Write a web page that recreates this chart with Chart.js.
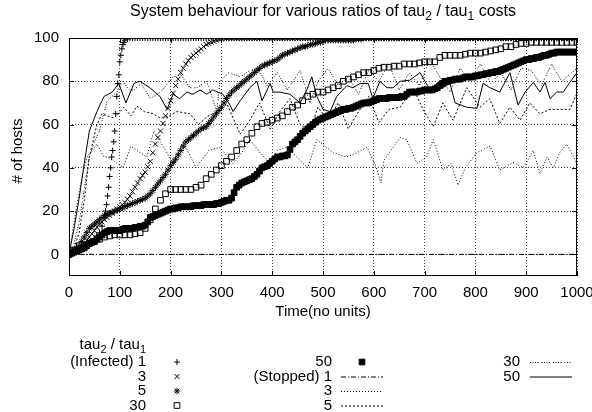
<!DOCTYPE html>
<html>
<head>
<meta charset="utf-8">
<script src="https://cdn.jsdelivr.net/npm/chart.js@4.4.0/dist/chart.umd.min.js"></script>
<style>
  html, body { margin: 0; padding: 0; background: #fff; }
  #wrap { width: 592px; height: 412px; }
</style>
</head>
<body>
<div id="wrap"><canvas id="chart" width="592" height="412"></canvas></div>
<script>
// gnuplot-style chart: infected / stopped hosts for several tau2/tau1 ratios

const xTicks = [0, 100, 200, 300, 400, 500, 600, 700, 800, 900, 1000];
const yTicks = [0, 20, 40, 60, 80, 100];

// sample grids of the point series
const gridX5 = [];
for (let x = 0; x <= 1000; x += 5) gridX5.push(x);
const gridX10 = gridX5.filter(x => x % 10 === 0);

// Infected, ratio 1 (denser samples where it climbs)
const inf1X = [0, 5, 10, 15, 20, 25, 30, 35, 40, 45, 50, 55, 60, 65,
  70, 72, 74, 76, 78, 80, 82, 84, 86, 88, 90, 92, 94, 96, 98, 100, 102, 104, 106, 108, 110, 115]
  .concat(gridX5.filter(x => x >= 120));
const infected1 = [0, 0.5, 1, 1.5, 2, 2.5, 3, 4, 5, 6, 7, 8.5, 10, 13,
  17, 20, 23, 27, 31, 36, 40, 45, 48, 52, 57, 65, 73, 79, 83, 89, 92, 95, 97, 98, 99, 99.5,
  100, 100, 100, 100, 100, 100, 100, 100, 100, 100, 100, 100, 100, 100, 100, 100, 100, 100, 100, 100,
  100, 100, 100, 100, 100, 100, 100, 100, 100, 100, 100, 100, 100, 100, 100, 100, 100, 100, 100, 100,
  100, 100, 100, 100, 100, 100, 100, 100, 100, 100, 100, 100, 100, 100, 100, 100, 100, 100, 100, 100,
  100, 100, 100, 100, 100, 100, 100, 100, 100, 100, 100, 100, 100, 100, 100, 100, 100, 100, 100, 100,
  100, 100, 100, 100, 100, 100, 100, 100, 100, 100, 100, 100, 100, 100, 100, 100, 100, 100, 100, 100,
  100, 100, 100, 100, 100, 100, 100, 100, 100, 100, 100, 100, 100, 100, 100, 100, 100, 100, 100, 100,
  100, 100, 100, 100, 100, 100, 100, 100, 100, 100, 100, 100, 100, 100, 100, 100, 100, 100, 100, 100,
  100, 100, 100, 100, 100, 100, 100, 100, 100, 100, 100, 100, 100, 100, 100, 100, 100, 100, 100, 100,
  100, 100, 100, 100, 100, 100, 100, 100, 100, 100, 100, 100, 100, 100, 100, 100, 100];

// Infected, ratio 3 (every 5 units)
const infected3 = [0, 0.5, 1, 2, 3, 4, 5, 6.5, 8, 9.5,
  11, 12.5, 14, 15, 16, 17, 18, 19, 20, 21,
  22, 23, 24, 25.5, 27, 29, 31, 33, 35, 36.5,
  38, 40.5, 43, 47, 51, 54, 57, 60.5, 64, 67.5,
  71, 74.5, 78, 81, 84, 86, 88, 89.5, 91, 92,
  93, 94, 95, 96, 97, 97.5, 98, 98.5, 99, 99.5,
  99.5, 100,
  100, 100, 100, 100, 100, 100, 100, 100, 100, 100, 100, 100, 100, 100, 100, 100, 100, 100, 100, 100,
  100, 100, 100, 100, 100, 100, 100, 100, 100, 100, 100, 100, 100, 100, 100, 100, 100, 100, 100, 100,
  100, 100, 100, 100, 100, 100, 100, 100, 100, 100, 100, 100, 100, 100, 100, 100, 100, 100, 100, 100,
  100, 100, 100, 100, 100, 100, 100, 100, 100, 100, 100, 100, 100, 100, 100, 100, 100, 100, 100, 100,
  100, 100, 100, 100, 100, 100, 100, 100, 100, 100, 100, 100, 100, 100, 100, 100, 100, 100, 100, 100,
  100, 100, 100, 100, 100, 100, 100, 100, 100, 100, 100, 100, 100, 100, 100, 100, 100, 100, 100, 100,
  100, 100, 100, 100, 100, 100, 100, 100, 100, 100, 100, 100, 100, 100, 100, 100, 100, 100, 100];

// Infected, ratio 5 (every 5 units)
const infected5 = [0, 1, 2, 3, 4, 6, 8, 10, 12, 13,
  14, 15, 16, 17, 18, 18.5, 19, 19.5, 20, 20.5,
  21, 21.5, 22, 22.5, 23, 23.5, 24, 24.5, 25, 25.5,
  26, 27, 28, 29.5, 31, 32.5, 34, 35.5, 37, 39,
  41, 42.5, 44, 46, 48, 50, 52, 53, 54, 55,
  56, 57, 58, 58.5, 59, 60.5, 62, 63.5, 65, 66.5,
  68, 70, 72, 73.5, 75, 76, 77, 78, 79, 80,
  81, 82, 83, 84, 85, 86, 87, 87.5, 88, 88.5,
  89, 89.5, 90, 91, 92, 92.5, 93, 93.5, 94, 94.5,
  95, 95.5, 96, 96, 96.5, 97, 97, 97.5, 98, 98,
  98.5, 99, 99, 99, 99, 99, 99, 99, 99, 99,
  99, 99, 99, 99.5, 99.5, 99.5,
  100, 100, 100, 100, 100, 100, 100, 100, 100, 100, 100, 100, 100, 100, 100, 100, 100, 100, 100, 100,
  100, 100, 100, 100, 100, 100, 100, 100, 100, 100, 100, 100, 100, 100, 100, 100, 100, 100, 100, 100,
  100, 100, 100, 100, 100, 100, 100, 100, 100, 100, 100, 100, 100, 100, 100, 100, 100, 100, 100, 100,
  100, 100, 100, 100, 100, 100, 100, 100, 100, 100, 100, 100, 100, 100, 100, 100, 100, 100, 100, 100,
  100, 100, 100, 100, 100];

// Infected, ratio 30 (every 10 units)
const infected30 = [0, 2, 4, 4, 5, 6, 7, 8, 8.5, 9,
  9, 9, 9, 9.5, 10, 12, 16, 21, 25, 28,
  30, 30, 30, 30, 30, 31, 32, 35, 37, 39,
  41, 43, 45, 48, 51, 53, 56, 59, 60.5, 61,
  62, 63, 64, 66, 68, 69, 71, 73, 74, 75,
  75, 76, 77, 78, 80, 81, 82, 83, 84, 84,
  85, 86, 86.5, 86.5, 87, 87, 88, 88, 88, 88.5,
  89, 89, 89, 91, 92, 92, 92, 92, 92.5, 93,
  93, 93, 93.5, 94, 94.5, 95, 96, 96, 97, 97.5,
  97.5, 98, 98, 98, 98, 98, 98, 98, 98, 98,
  98];

// Infected, ratio 50 (every 5 units)
const infected50 = [0, 0.5, 1, 1.5, 2, 2.5, 3, 4, 5, 5.5,
  6, 7, 8, 9, 10, 10.5, 11, 11, 11, 11,
  11, 11.5, 12, 12, 12, 12, 12.5, 12.5, 13, 13,
  13.5, 15, 17, 17.5, 18, 18.5, 19, 19.5, 20, 20.5,
  21, 21, 21.5, 21.5, 22, 22, 22, 22, 22, 22.5,
  22.5, 22.5, 22.5, 23, 23, 23, 23, 23, 23.5, 23.5,
  24, 24.5, 25, 25, 26, 28.5, 31, 32, 33, 33.5,
  34, 34.5, 35, 36, 37, 38.5, 40, 40.5, 41, 42,
  43, 44, 45, 45, 45.5, 45.5, 46, 48.5, 51, 52,
  53, 54.5, 56, 57, 58, 59, 60, 61, 62, 62.5,
  63, 63.5, 64, 64.5, 65, 65.5, 66, 66.5, 67, 67,
  67.5, 67.5, 68, 68.5, 69, 69.5, 70, 70, 70, 70.5,
  71, 71.5, 72, 72, 72, 72, 72.5, 72.5, 72.5, 72.5,
  72.5, 73, 73, 74, 75, 75, 75, 75, 75.5, 75.5,
  76, 76, 76, 76, 76.5, 77, 78, 79, 80, 80,
  80.5, 80.5, 81, 81, 81, 81.5, 82, 82, 82, 82,
  82.5, 82.5, 83, 83, 83.5, 83.5, 84, 84, 84.5, 84.5,
  85, 85.5, 86, 86.5, 87, 87.5, 88, 88.5, 89, 89.5,
  90, 90, 90.5, 90.5, 91, 91, 91.5, 92, 92, 92.5,
  93, 93, 93.5, 93.5, 93.5, 93.5, 93.5, 93.5, 93.5, 93.5,
  93.5];

// Stopped series (lines)
const stop1X = [0, 1000];
const stopped1 = [0, 0];

const stop3X = [0, 10, 24, 35, 49, 55, 69, 75, 89, 106, 122, 134, 153, 167, 185, 205, 225, 250, 275, 297, 323, 340, 356, 376, 396, 410, 429, 455, 470, 488, 520, 547, 567, 587, 605, 614, 620, 652, 665, 685, 704, 717, 736, 752, 766, 780, 803, 829, 848, 874, 894, 914, 927, 941, 953, 966, 980, 1000];
const stopped3 = [0, 15, 34, 45, 49, 51, 45, 45, 43, 40, 50, 48, 45, 57, 50, 42, 52, 40, 48, 49.5, 42, 47, 53, 47, 42, 48, 49.5, 43.5, 40, 53, 47, 45, 47, 49.5, 40, 33, 43.5, 54, 53, 42, 45, 53, 39, 42, 32, 40, 47, 50, 39, 42.5, 40, 48, 37.5, 45, 40, 47, 51, 42];

const stop5X = [0, 10, 20, 30, 40, 55, 65, 75, 89, 108, 122, 134, 148, 165, 180, 193, 212, 238, 255, 271, 291, 311, 337, 356, 375, 396, 415, 435, 455, 474, 490, 510, 530, 550, 570, 590, 610, 630, 652, 677, 697, 717, 736, 756, 783, 809, 828, 848, 868, 888, 907, 927, 947, 966, 986, 1000];
const stopped5 = [0, 3, 10, 25, 45, 60, 65, 64, 63, 68, 64, 68.5, 66, 65, 63, 63.5, 66, 65, 60, 63.5, 66, 69.5, 55.5, 62, 70, 58, 66, 72, 60, 57, 68, 62, 70, 58, 66, 73, 61, 67, 68, 77, 67, 59, 70, 62, 77, 68, 72, 60.5, 68, 62, 70, 65, 67, 67, 67, 74.5];

const stop30X = [0, 10, 20, 30, 40, 50, 60, 75, 94, 106, 118, 128, 142, 160, 180, 205, 220, 238, 252, 271, 291, 297, 315, 337, 356, 372, 390, 410, 430, 455, 474, 490, 510, 530, 550, 570, 590, 610, 630, 650, 670, 690, 710, 730, 750, 770, 790, 810, 830, 850, 870, 890, 910, 930, 950, 970, 990, 1000];
const stopped30 = [0, 5, 15, 30, 45, 52, 57, 71, 75, 80, 76, 76, 79, 72, 75, 82, 83, 77, 77, 80, 66, 80, 84, 82, 85, 86, 78, 84, 76, 85, 70, 80, 86, 78, 82, 74, 85, 80, 88, 76, 84, 78, 90, 82, 75, 86, 80, 88, 79, 84, 76, 86, 85, 78, 88, 80, 84, 86];

const stop50X = [0, 10, 20, 30, 40, 55, 69, 85, 98, 112, 128, 140, 159, 179, 193, 205, 218, 232, 244, 258, 271, 283, 303, 317, 323, 337, 356, 370, 380, 396, 402, 415, 435, 455, 468, 478, 488, 500, 514, 527, 547, 559, 573, 589, 598, 612, 626, 638, 652, 671, 691, 714, 724, 736, 750, 760, 783, 803, 815, 829, 848, 868, 884, 898, 914, 927, 937, 947, 960, 973, 986, 1000];
const stopped50 = [0, 12, 26, 42, 57, 66, 73, 75, 79, 70, 79, 80, 77, 73, 67, 74, 72, 75, 74, 76, 74, 76, 74, 69, 66, 71, 77, 80, 71, 79, 75, 75, 74, 70, 76, 82, 73, 67, 66, 73, 78, 77, 79, 79, 72, 80, 77, 77, 80, 80.5, 84, 74.5, 79, 77, 79, 70, 68, 67.5, 79, 77, 75, 84, 69, 75, 79.5, 75, 79.5, 72, 75, 75, 79.5, 84];

const FONT = '"Liberation Sans", Arial, Helvetica, sans-serif';
const FS = 15;
const TITLE_FS = 16;

function pts(xs, ys) {
  return xs.map((x, i) => ({ x: x, y: ys[i] }));
}

function markerSet(label, xs, ys, style, radius, fill) {
  return {
    label: label,
    data: pts(xs, ys),
    showLine: false,
    pointStyle: style,
    pointRadius: radius,
    pointBorderWidth: 1,
    pointBorderColor: '#000',
    pointBackgroundColor: fill ? '#000' : 'rgba(0,0,0,0)',
    borderColor: '#000',
    backgroundColor: fill ? '#000' : 'rgba(0,0,0,0)'
  };
}

function lineSet(label, xs, ys, dash) {
  return {
    label: label,
    data: pts(xs, ys),
    showLine: true,
    pointRadius: 0,
    borderColor: '#000',
    borderWidth: 1,
    borderDash: dash,
    fill: false,
    tension: 0
  };
}

const datasets = [
  markerSet('(Infected) 1', inf1X, infected1, 'cross', 3, false),
  markerSet('3', gridX5, infected3, 'crossRot', 3.6, false),
  markerSet('5', gridX5, infected5, 'star', 3.2, false),
  markerSet('30', gridX10, infected30, 'rect', 4, false),
  markerSet('50', gridX5, infected50, 'rect', 4, true),
  lineSet('(Stopped) 1', stop1X, stopped1, [5, 2, 1, 2]),
  lineSet('3', stop3X, stopped3, [1, 2]),
  lineSet('5', stop5X, stopped5, [2, 2]),
  lineSet('30', stop30X, stopped30, [1, 1.5, 1, 1.5, 1, 1.5, 1, 3]),
  lineSet('50', stop50X, stopped50, [])
];
// later series drawn on top, as gnuplot does
datasets.forEach((d, i) => { d.order = datasets.length - i; });

function drawRich(ctx, parts, x, y, align, size) {
  const main = size + 'px ' + FONT;
  const sub = Math.round(size * 0.72) + 'px ' + FONT;
  let w = 0;
  parts.forEach(p => { ctx.font = p.sub ? sub : main; p.w = ctx.measureText(p.t).width; w += p.w; });
  let cx = align === 'center' ? x - w / 2 : (align === 'right' ? x - w : x);
  ctx.textAlign = 'left';
  ctx.textBaseline = 'middle';
  parts.forEach(p => {
    ctx.font = p.sub ? sub : main;
    ctx.fillText(p.t, cx, y + (p.sub ? size * 0.32 : 0));
    cx += p.w;
  });
}

function drawSample(ctx, ds, x, y) {
  ctx.save();
  ctx.strokeStyle = '#000';
  ctx.lineWidth = 1;
  if (ds.showLine) {
    ctx.setLineDash(ds.borderDash);
    ctx.beginPath();
    ctx.moveTo(x - 21, y + 0.5);
    ctx.lineTo(x + 21, y + 0.5);
    ctx.stroke();
  } else {
    ctx.fillStyle = ds.pointBackgroundColor;
    Chart.helpers.drawPoint(ctx, { pointStyle: ds.pointStyle, radius: ds.pointRadius, borderWidth: 1, rotation: 0 }, x, y);
  }
  ctx.restore();
}

const gnuplotDecor = {
  id: 'gnuplotDecor',
  afterDraw(chart) {
    const ctx = chart.ctx;
    const a = chart.chartArea;
    const xs = chart.scales.x, ys = chart.scales.y;
    ctx.save();
    ctx.strokeStyle = '#000';
    ctx.lineWidth = 1;
    ctx.setLineDash([]);
    // frame
    ctx.strokeRect(Math.round(a.left) + 0.5, Math.round(a.top) + 0.5, Math.round(a.right - a.left) - 1, Math.round(a.bottom - a.top) - 1);
    // inward tick marks on all four sides
    ctx.beginPath();
    xTicks.forEach(v => {
      const px = Math.round(xs.getPixelForValue(v)) + 0.5;
      ctx.moveTo(px, a.bottom); ctx.lineTo(px, a.bottom - 5);
      ctx.moveTo(px, a.top); ctx.lineTo(px, a.top + 5);
    });
    yTicks.forEach(v => {
      const py = Math.round(ys.getPixelForValue(v)) + 0.5;
      ctx.moveTo(a.left, py); ctx.lineTo(a.left + 5, py);
      ctx.moveTo(a.right, py); ctx.lineTo(a.right - 5, py);
    });
    ctx.stroke();

    ctx.fillStyle = '#000';
    // title
    drawRich(ctx, [{ t: 'System behaviour for various ratios of tau' }, { t: '2', sub: true }, { t: ' / tau' }, { t: '1', sub: true }, { t: ' costs' }],
      (a.left + a.right) / 2, 12, 'center', TITLE_FS);
    // axis titles
    ctx.font = FS + 'px ' + FONT;
    ctx.textAlign = 'center';
    ctx.textBaseline = 'middle';
    ctx.fillText('Time(no units)', (a.left + a.right) / 2, 312);
    ctx.save();
    ctx.translate(18, 151);
    ctx.rotate(-Math.PI / 2);
    ctx.fillText('# of hosts', 0, 0);
    ctx.restore();

    // key below the plot, three columns
    drawRich(ctx, [{ t: 'tau' }, { t: '2', sub: true }, { t: ' / tau' }, { t: '1', sub: true }], 146, 345, 'right', FS);
    const rows = [362, 376.5, 391, 405.5];
    const cols = [{ textX: 146, sampleX: 177 }, { textX: 332, sampleX: 362 }, { textX: 520, sampleX: 551 }];
    datasets.forEach((ds, i) => {
      const c = cols[Math.floor(i / 4)];
      const y = rows[i % 4];
      ctx.font = FS + 'px ' + FONT;
      ctx.textAlign = 'right';
      ctx.textBaseline = 'middle';
      ctx.fillStyle = '#000';
      ctx.fillText(ds.label, c.textX, y);
      drawSample(ctx, ds, c.sampleX, y);
    });
    ctx.restore();
  }
};

new Chart(document.getElementById('chart'), {
  type: 'scatter',
  data: { datasets: datasets },
  options: {
    responsive: false,
    animation: false,
    events: [],
    layout: { padding: { left: 0, right: 15, top: 38, bottom: 0 } },
    plugins: {
      legend: { display: false },
      tooltip: { enabled: false },
      title: { display: false }
    },
    scales: {
      x: {
        type: 'linear',
        min: 0,
        max: 1000,
        afterBuildTicks: s => { s.ticks = xTicks.map(v => ({ value: v })); },
        afterFit: s => { s.height = 136; s.paddingLeft = 0; s.paddingRight = 0; },
        ticks: { color: '#000', font: { family: FONT, size: FS }, padding: 8, maxRotation: 0, autoSkip: false, callback: v => String(v) },
        grid: { color: '#444', lineWidth: 1, drawTicks: false },
        border: { display: false, dash: [1, 2] }
      },
      y: {
        type: 'linear',
        min: -10,
        max: 100,
        afterBuildTicks: s => { s.ticks = yTicks.map(v => ({ value: v })); },
        afterFit: s => { s.width = 69; s.paddingTop = 0; s.paddingBottom = 0; },
        ticks: { color: '#000', font: { family: FONT, size: FS }, padding: 10, callback: v => String(v) },
        grid: { color: '#444', lineWidth: 1, drawTicks: false },
        border: { display: false, dash: [1, 2] }
      }
    }
  },
  plugins: [gnuplotDecor]
});
</script>
</body>
</html>
